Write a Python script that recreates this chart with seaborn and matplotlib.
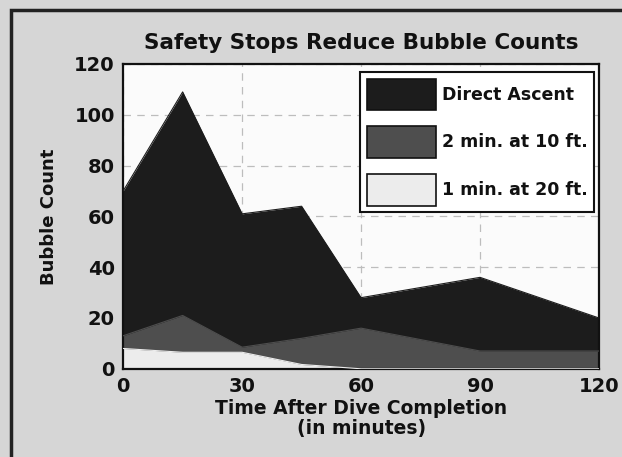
import pandas as pd
import matplotlib.pyplot as plt
import seaborn as sns
from matplotlib.patches import Patch, Rectangle

# 데이터
minutes = [0, 15, 30, 45, 60, 90, 120]
direct_ascent = [70, 109, 61, 64, 28, 36, 20]
stop_10ft = [13, 21, 8.5, 12, 16, 7, 7]
stop_20ft = [8, 6.5, 6.5, 1.7, 0, 0, 0]

series_names = ["Direct Ascent", "2 min. at 10 ft.", "1 min. at 20 ft."]
series_colors = ["#1c1c1c", "#4e4e4e", "#ececec"]
x_ticks = [0, 30, 60, 90, 120]
y_ticks = [0, 20, 40, 60, 80, 100, 120]

df = pd.DataFrame({
    "minutes": minutes,
    series_names[0]: direct_ascent,
    series_names[1]: stop_10ft,
    series_names[2]: stop_20ft,
})
long_df = df.melt(id_vars="minutes", var_name="series", value_name="count")

sns.set_theme(style="white")
plt.rcParams["font.family"] = ["DejaVu Sans"]
plt.rcParams["font.weight"] = "bold"
plt.rcParams["text.color"] = "#111111"
plt.rcParams["axes.labelcolor"] = "#111111"
plt.rcParams["xtick.color"] = "#111111"
plt.rcParams["ytick.color"] = "#111111"

fig = plt.figure(figsize=(6.22, 4.57), dpi=100, facecolor="#d6d6d6")
ax = fig.add_axes([0.198, 0.193, 0.765, 0.667])
ax.set_facecolor("#fbfbfb")

# 바깥 테두리
fig.patches.append(Rectangle((0.017, -0.01), 1.0, 0.988, transform=fig.transFigure,
                             fill=False, edgecolor="#222222", linewidth=2.5, zorder=0))

# 선은 seaborn, 면은 fill_between
sns.lineplot(data=long_df, x="minutes", y="count", hue="series",
             palette=dict(zip(series_names, series_colors)), legend=False,
             linewidth=0.8, ax=ax, zorder=3)
for i, name in enumerate(series_names):
    ax.fill_between(df["minutes"], 0, df[name], color=series_colors[i],
                    linewidth=0, zorder=2 + i * 0.1)

ax.set_xlim(0, 120)
ax.set_ylim(0, 120)
ax.set_xticks(x_ticks)
ax.set_yticks(y_ticks)
ax.tick_params(axis="both", labelsize=14, length=0, pad=6)
for lbl in ax.get_xticklabels() + ax.get_yticklabels():
    lbl.set_fontweight("bold")
ax.grid(True, linestyle=(0, (6, 5)), color="#bdbdbd", linewidth=0.9, zorder=1)
ax.set_axisbelow(True)
for s in ax.spines.values():
    s.set_color("#111111")
    s.set_linewidth(1.6)

ax.set_title("Safety Stops Reduce Bubble Counts", fontsize=15.5, fontweight="bold", pad=11)
ax.set_xlabel("Time After Dive Completion\n(in minutes)", fontsize=13.5, fontweight="bold",
              labelpad=2, linespacing=1.1)
ax.set_ylabel("Bubble Count", fontsize=13, fontweight="bold", labelpad=12)

handles = [Patch(facecolor=c, edgecolor="#111111", linewidth=1.2) for c in series_colors]
leg = ax.legend(handles, series_names, loc="upper right", bbox_to_anchor=(0.99, 0.975),
                handlelength=4.0, handleheight=2.4, labelspacing=0.95,
                handletextpad=0.3, borderpad=0.4, borderaxespad=0.0, frameon=True,
                fancybox=False, prop={"weight": "bold", "size": 12.5})
leg.get_frame().set_edgecolor("#111111")
leg.get_frame().set_linewidth(1.5)
leg.get_frame().set_facecolor("white")
leg.get_frame().set_alpha(1)
leg.set_zorder(10)

plt.savefig("out.png", dpi=100, facecolor=fig.get_facecolor())
plt.close()
